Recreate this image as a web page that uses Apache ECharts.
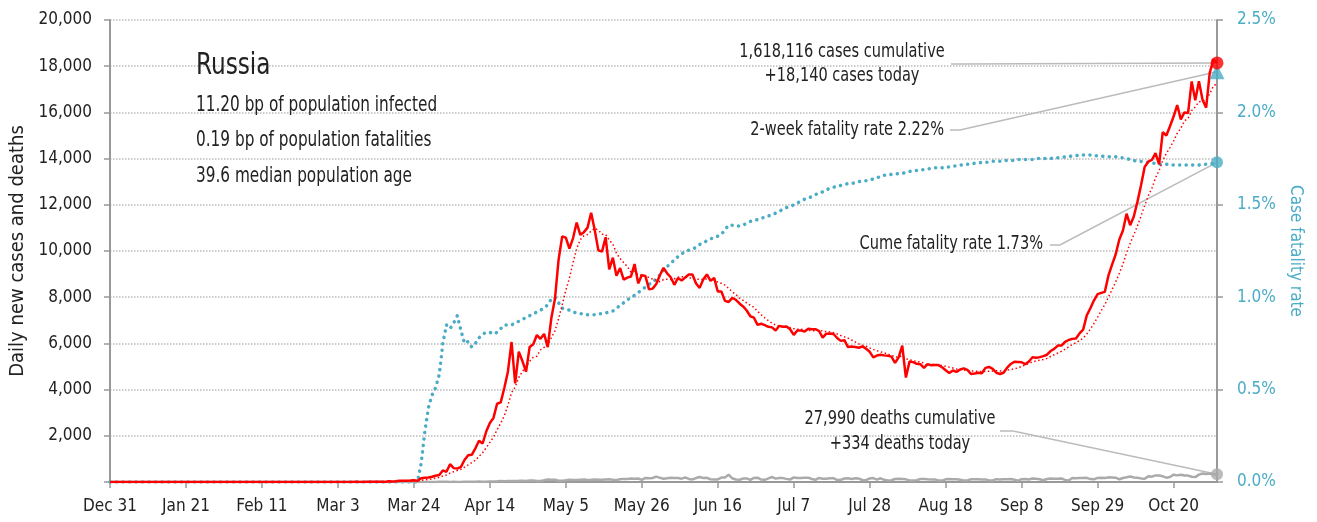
<!DOCTYPE html>
<html>
<head>
<meta charset="utf-8">
<title>Russia</title>
<script src="https://cdn.jsdelivr.net/npm/echarts@6/dist/echarts.min.js"></script>
<style>
  html, body { margin: 0; padding: 0; background: #fff; }
  #chart { width: 1317px; height: 522px; }
</style>
</head>
<body>
<div id="chart"></div>
<script>
// one value per day, Dec 31 2019 .. Nov 1 2020
var cases = [
  0,
  0, 0, 0, 0, 0, 0, 0, 0, 0, 0, 0, 0, 0, 0, 0, 0, 0, 0, 0, 0, 0, 0, 0, 0, 0, 0, 0, 0, 0, 0, 0,
  2, 0, 0, 0, 0, 0, 0, 0, 0, 0, 0, 0, 0, 0, 0, 0, 0, 0, 0, 0, 0, 0, 0, 0, 0, 0, 0, 0, 0,
  0, 0, 1, 0, 0, 1, 1, 6, 0, 3, 7, 8, 6, 11, 14, 4, 30, 21, 33, 52, 54, 53, 61, 71, 57, 163, 182, 196, 228, 270, 302,
  501, 440, 771, 601, 582, 658, 954, 1154, 1175, 1459, 1786, 1667, 2186, 2558, 2774, 3388, 3448, 4070, 4785, 6060, 4268, 5642, 5236, 4774, 5849, 5966, 6361, 6198, 6411, 5841,
  7099, 7933, 9623, 10633, 10581, 10102, 10559, 11231, 10699, 10817, 11012, 11656, 10899, 10028, 9974, 10598, 9200, 9709, 8926, 9263, 8764, 8849, 8894, 9434, 8599, 8946, 8915, 8338, 8371, 8572, 8952,
  9268, 9035, 8863, 8536, 8831, 8726, 8855, 8984, 8985, 8595, 8404, 8779, 8987, 8706, 8835, 8246, 8248, 7843, 7790, 7972, 7889, 7728, 7600, 7425, 7176, 7113, 6800, 6852, 6791, 6719,
  6693, 6556, 6760, 6718, 6736, 6611, 6368, 6562, 6562, 6509, 6635, 6611, 6615, 6537, 6248, 6422, 6428, 6406, 6234, 6109, 6139, 5842, 5862, 5848, 5811, 5871, 5765, 5635, 5395, 5475, 5509,
  5482, 5462, 5427, 5159, 5394, 5900, 4520, 5212, 5189, 5118, 5102, 4945, 5102, 5057, 5065, 5061, 4969, 4839, 4718, 4828, 4767, 4870, 4921, 4852, 4676, 4696, 4729, 4711, 4941, 4980, 4897,
  4729, 4676, 4729, 4952, 5110, 5205, 5195, 5185, 5099, 5218, 5400, 5380, 5406, 5449, 5509, 5670, 5762, 5905, 5904, 6065, 6148, 6196, 6215, 6431, 6595, 7212, 7523, 7867, 8135, 8185,
  8232, 8945, 9412, 9859, 10499, 10888, 11615, 11115, 11493, 12126, 12846, 13634, 13868, 13940, 14240, 13750, 15150, 15000, 15400, 15820, 16320, 15700, 16000, 15970, 17340, 16521, 17347, 16550, 16202, 17717, 18283,
  18140
]

var casesAvg = [
  0,
  0, 0, 0, 0, 0, 0, 0, 0, 0, 0, 0, 0, 0, 0, 0, 0, 0, 0, 0, 0, 0, 0, 0, 0, 0, 0, 0, 0, 0, 0, 0,
  0, 0, 0, 0, 0, 0, 0, 0, 0, 0, 0, 0, 0, 0, 0, 0, 0, 0, 0, 0, 0, 0, 0, 0, 0, 0, 0, 0, 0,
  0, 0, 0, 0, 0, 0, 0, 1, 1, 2, 3, 4, 4, 6, 7, 8, 11, 13, 17, 24, 30, 35, 43, 49, 54, 73, 92, 112, 137, 167, 200,
  263, 303, 387, 445, 495, 551, 644, 737, 842, 940, 1110, 1265, 1483, 1712, 1944, 2260, 2544, 2870, 3316, 3869, 4113, 4523, 4787, 4976, 5231, 5399, 5442, 5718, 5828, 5914,
  6246, 6544, 7067, 7677, 8303, 8830, 9504, 10095, 10490, 10660, 10714, 10868, 10982, 10906, 10726, 10712, 10481, 10295, 9905, 9671, 9491, 9330, 9086, 9120, 8961, 8964, 8914, 8854, 8785, 8739, 8670,
  8766, 8779, 8771, 8800, 8865, 8887, 8873, 8833, 8826, 8787, 8769, 8761, 8798, 8777, 8756, 8650, 8601, 8521, 8379, 8234, 8118, 7959, 7867, 7750, 7654, 7558, 7390, 7242, 7108, 6982,
  6878, 6789, 6739, 6727, 6710, 6685, 6635, 6616, 6617, 6581, 6569, 6551, 6552, 6576, 6531, 6511, 6499, 6467, 6413, 6341, 6284, 6226, 6146, 6063, 5978, 5926, 5877, 5805, 5741, 5686, 5637,
  5590, 5532, 5484, 5416, 5415, 5476, 5335, 5296, 5257, 5213, 5205, 5141, 5027, 5104, 5083, 5064, 5043, 5005, 4973, 4934, 4892, 4865, 4845, 4828, 4805, 4801, 4787, 4779, 4789, 4798, 4804,
  4812, 4809, 4809, 4843, 4868, 4900, 4942, 5007, 5068, 5138, 5202, 5240, 5269, 5305, 5352, 5433, 5511, 5583, 5658, 5752, 5852, 5950, 6028, 6123, 6222, 6409, 6617, 6863, 7140, 7421,
  7678, 8014, 8328, 8662, 9038, 9431, 9921, 10333, 10697, 11085, 11512, 11960, 12385, 12717, 13164, 13486, 13918, 14226, 14478, 14757, 15097, 15306, 15627, 15744, 16079, 16239, 16457, 16490, 16561, 16807, 17137,
  17251
]

var deaths = [
  0,
  0, 0, 0, 0, 0, 0, 0, 0, 0, 0, 0, 0, 0, 0, 0, 0, 0, 0, 0, 0, 0, 0, 0, 0, 0, 0, 0, 0, 0, 0, 0,
  0, 0, 0, 0, 0, 0, 0, 0, 0, 0, 0, 0, 0, 0, 0, 0, 0, 0, 0, 0, 0, 0, 0, 0, 0, 0, 0, 0, 0,
  0, 0, 0, 0, 0, 0, 0, 0, 0, 0, 0, 0, 0, 0, 0, 0, 0, 0, 0, 1, 0, 0, 0, 0, 0, 1, 1, 1, 4, 1, 8,
  7, 6, 4, 9, 4, 2, 11, 11, 13, 13, 18, 12, 13, 22, 18, 28, 41, 34, 41, 48, 48, 51, 57, 42, 60, 66, 47, 47, 72, 108,
  101, 96, 57, 58, 76, 95, 86, 88, 98, 104, 88, 94, 107, 96, 93, 113, 119, 94, 91, 115, 135, 127, 150, 139, 153, 92, 174, 161, 174, 232, 181,
  138, 162, 182, 178, 169, 144, 197, 134, 112, 171, 216, 174, 181, 119, 113, 111, 193, 194, 320, 161, 109, 95, 153, 154, 92, 176, 188, 104, 93, 154,
  216, 147, 176, 168, 135, 104, 198, 173, 174, 186, 188, 130, 95, 175, 144, 140, 161, 166, 85, 95, 153, 165, 129, 161, 147, 85, 80, 155, 169, 104, 161,
  95, 70, 77, 130, 144, 129, 114, 70, 70, 77, 130, 129, 114, 109, 112, 68, 60, 114, 125, 119, 121, 98, 65, 69, 121, 115, 117, 110, 112, 68, 64,
  123, 110, 123, 119, 129, 96, 56, 122, 131, 112, 150, 144, 122, 74, 130, 150, 145, 144, 150, 90, 66, 170, 160, 169, 169, 180, 125, 117, 177, 186,
  169, 201, 198, 186, 117, 173, 202, 239, 197, 186, 156, 141, 244, 232, 286, 279, 245, 186, 219, 317, 286, 317, 283, 278, 229, 211, 320, 366, 346, 366, 320,
  334
]

// cumulative case fatality rate, %
var cfr = [
  0,
  0, 0, 0, 0, 0, 0, 0, 0, 0, 0, 0, 0, 0, 0, 0, 0, 0, 0, 0, 0, 0, 0, 0, 0, 0, 0, 0, 0, 0, 0, 0,
  0, 0, 0, 0, 0, 0, 0, 0, 0, 0, 0, 0, 0, 0, 0, 0, 0, 0, 0, 0, 0, 0, 0, 0, 0, 0, 0, 0, 0,
  0, 0, 0, 0, 0, 0, 0, 0, 0, 0, 0, 0, 0, 0, 0, 0, 0, 0, 0, 0, 0, 0, 0, 0, 0, 0.10, 0.27, 0.40, 0.47, 0.51, 0.58,
  0.75, 0.85, 0.83, 0.86, 0.90, 0.82, 0.75, 0.76, 0.73, 0.75, 0.78, 0.80, 0.81, 0.81, 0.80, 0.81, 0.83, 0.85, 0.85, 0.85, 0.86, 0.87, 0.88, 0.89, 0.90, 0.91, 0.92, 0.93, 0.94, 0.96,
  0.99, 1.00, 0.97, 0.94, 0.935, 0.93, 0.92, 0.915, 0.91, 0.91, 0.905, 0.905, 0.905, 0.91, 0.91, 0.915, 0.92, 0.925, 0.94, 0.955, 0.97, 0.985, 1.00, 1.01, 1.025, 1.04, 1.055, 1.07, 1.08, 1.10, 1.12,
  1.145, 1.165, 1.185, 1.20, 1.22, 1.235, 1.245, 1.255, 1.26, 1.27, 1.285, 1.295, 1.305, 1.315, 1.325, 1.33, 1.34, 1.365, 1.39, 1.39, 1.385, 1.385, 1.39, 1.40, 1.41, 1.415, 1.42, 1.425, 1.435, 1.44,
  1.445, 1.455, 1.465, 1.475, 1.485, 1.49, 1.50, 1.51, 1.52, 1.53, 1.535, 1.545, 1.555, 1.565, 1.57, 1.58, 1.59, 1.595, 1.60, 1.605, 1.61, 1.615, 1.615, 1.62, 1.625, 1.63, 1.63, 1.635, 1.64, 1.645, 1.655,
  1.66, 1.66, 1.665, 1.665, 1.67, 1.67, 1.675, 1.68, 1.685, 1.685, 1.69, 1.69, 1.695, 1.695, 1.70, 1.70, 1.70, 1.705, 1.705, 1.71, 1.71, 1.715, 1.715, 1.72, 1.72, 1.725, 1.725, 1.73, 1.73, 1.73, 1.735,
  1.735, 1.735, 1.74, 1.74, 1.74, 1.74, 1.745, 1.745, 1.745, 1.745, 1.745, 1.75, 1.75, 1.75, 1.75, 1.75, 1.755, 1.755, 1.755, 1.76, 1.76, 1.765, 1.765, 1.77, 1.77, 1.77, 1.77, 1.765, 1.765, 1.765,
  1.76, 1.76, 1.76, 1.76, 1.755, 1.755, 1.75, 1.745, 1.74, 1.735, 1.735, 1.73, 1.73, 1.725, 1.725, 1.72, 1.72, 1.72, 1.715, 1.715, 1.715, 1.715, 1.715, 1.715, 1.715, 1.715, 1.715, 1.72, 1.72, 1.72, 1.725,
  1.73
]

var twoWeekRate = 2.22
var cumeRate = 1.73
var totalCases = '1,618,116'
var totalDeaths = '27,990'

var infoLines = [
  '11.20 bp of population infected',
  '0.19 bp of population fatalities',
  '39.6 median population age'
]

var monthNames = ['Jan', 'Feb', 'Mar', 'Apr', 'May', 'Jun', 'Jul', 'Aug', 'Sep', 'Oct', 'Nov', 'Dec']
var days = cases.map(function(v, i) {
  var d = new Date(2019, 11, 31 + i)
  return monthNames[d.getMonth()] + ' ' + d.getDate()
})

var FONT = '"DejaVu Sans Condensed", "Liberation Sans Narrow", sans-serif'
var RED = '#ff0000'
var BLUE = '#4bacc6'
var GREY = '#aaaaaa'
var AXIS = '#999999'
var last = cases.length - 1

var chart = echarts.init(document.getElementById('chart'))

chart.setOption({
  animation: false,
  textStyle: { fontFamily: FONT },
  grid: { left: 110, right: 100, top: 20, bottom: 40, outerBoundsMode: 'none', containLabel: false },
  xAxis: {
    type: 'category',
    data: days,
    boundaryGap: false,
    axisLine: { lineStyle: { color: AXIS, width: 2 } },
    axisTick: { interval: 20, length: 6, lineStyle: { color: AXIS, width: 1.5 } },
    axisLabel: { interval: 20, margin: 16, color: '#222', fontSize: 17, fontFamily: FONT },
    splitLine: { show: false }
  },
  yAxis: [
    {
      type: 'value',
      min: 0,
      max: 20000,
      interval: 2000,
      name: 'Daily new cases and deaths',
      nameLocation: 'middle',
      nameGap: 76,
      nameRotate: 90,
      nameTextStyle: { color: '#222', fontSize: 20, fontFamily: FONT },
      axisLine: { show: true, lineStyle: { color: AXIS, width: 2 } },
      axisTick: { show: true, length: 6, lineStyle: { color: AXIS, width: 1.5 } },
      axisLabel: {
        margin: 18,
        color: '#222',
        fontSize: 17,
        fontFamily: FONT,
        formatter: function(v) { return v === 0 ? '' : v.toLocaleString('en-US') }
      },
      splitLine: { lineStyle: { color: '#bbb', type: 'dotted', width: 1.5 } }
    },
    {
      type: 'value',
      min: 0,
      max: 2.5,
      interval: 0.5,
      position: 'right',
      name: 'Case fatality rate',
      nameLocation: 'middle',
      nameGap: 52,
      nameRotate: -90,
      nameTextStyle: { color: BLUE, fontSize: 17, fontFamily: FONT },
      axisLine: { show: true, lineStyle: { color: AXIS, width: 2 } },
      axisTick: { show: true, length: 6, lineStyle: { color: AXIS, width: 1.5 } },
      axisLabel: {
        margin: 20,
        color: BLUE,
        fontSize: 17,
        fontFamily: FONT,
        formatter: function(v) { return v.toFixed(1) + '%' }
      },
      splitLine: { show: false }
    }
  ],
  series: [
    {
      name: 'Case fatality rate',
      type: 'line',
      yAxisIndex: 1,
      data: cfr,
      showSymbol: false,
      lineStyle: { color: BLUE, width: 3.5, type: [0.1, 6.4], cap: 'round' },
      z: 2
    },
    {
      name: 'Deaths',
      type: 'line',
      data: deaths,
      showSymbol: false,
      lineStyle: { color: GREY, width: 2.5 },
      z: 3
    },
    {
      name: '7-day average',
      type: 'line',
      data: casesAvg,
      showSymbol: false,
      lineStyle: { color: RED, width: 1.5, type: [1.5, 2.5] },
      z: 4
    },
    {
      name: 'Daily cases',
      type: 'line',
      data: cases,
      showSymbol: false,
      lineStyle: { color: RED, width: 2.5 },
      z: 5
    },
    {
      type: 'scatter',
      data: [[last, deaths[last]]],
      symbol: 'circle',
      symbolSize: 12,
      itemStyle: { color: GREY },
      z: 8
    },
    {
      type: 'scatter',
      yAxisIndex: 1,
      data: [[last, cumeRate]],
      symbol: 'circle',
      symbolSize: 12,
      itemStyle: { color: BLUE },
      z: 8
    },
    {
      type: 'scatter',
      yAxisIndex: 1,
      data: [[last, twoWeekRate]],
      symbol: 'triangle',
      symbolSize: 15,
      itemStyle: { color: BLUE },
      z: 8
    },
    {
      type: 'scatter',
      data: [[last, cases[last]]],
      symbol: 'circle',
      symbolSize: 13,
      itemStyle: { color: RED },
      z: 9
    }
  ]
})

var pCases = chart.convertToPixel({ xAxisIndex: 0, yAxisIndex: 0 }, [last, cases[last]])
var pDeaths = chart.convertToPixel({ xAxisIndex: 0, yAxisIndex: 0 }, [last, deaths[last]])
var pTwoWeek = chart.convertToPixel({ xAxisIndex: 0, yAxisIndex: 1 }, [last, twoWeekRate])
var pCume = chart.convertToPixel({ xAxisIndex: 0, yAxisIndex: 1 }, [last, cumeRate])

// the reference face is a narrow one, so squeeze the text sideways around its anchor
function label(text, x, y, size, align, squeeze) {
  return {
    type: 'text',
    x: x,
    y: y,
    scaleX: squeeze || 0.81,
    z: 20,
    style: {
      text: text, x: 0, y: 0,
      font: size + 'px ' + FONT,
      fill: '#222',
      align: align, textAlign: align,
      verticalAlign: 'middle', textVerticalAlign: 'middle'
    }
  }
}

function leader(points) {
  return {
    type: 'polyline',
    z: 1,
    shape: { points: points },
    style: { stroke: '#bbb', lineWidth: 1.5, fill: null }
  }
}

chart.setOption({
  graphic: [
    label('Russia', 196, 66, 30, 'left', 0.86),
    label(infoLines[0], 196, 106, 21, 'left'),
    label(infoLines[1], 196, 141, 21, 'left'),
    label(infoLines[2], 196, 177, 21, 'left'),
    label(totalCases + ' cases cumulative', 842, 52, 20, 'center'),
    label('+' + cases[last].toLocaleString('en-US') + ' cases today', 842, 76, 20, 'center'),
    label('2-week fatality rate ' + twoWeekRate.toFixed(2) + '%', 944, 130, 20, 'right'),
    label('Cume fatality rate ' + cumeRate.toFixed(2) + '%', 1043, 244, 20, 'right'),
    label(totalDeaths + ' deaths cumulative', 900, 419, 20, 'center'),
    label('+' + deaths[last] + ' deaths today', 900, 444, 20, 'center'),
    leader([[951, 64], [960, 64], pCases]),
    leader([[950, 130], [960, 130], pTwoWeek]),
    leader([[1050, 245], [1060, 245], pCume]),
    leader([[1000, 431], [1013, 431], pDeaths])
  ]
})
</script>
</body>
</html>
